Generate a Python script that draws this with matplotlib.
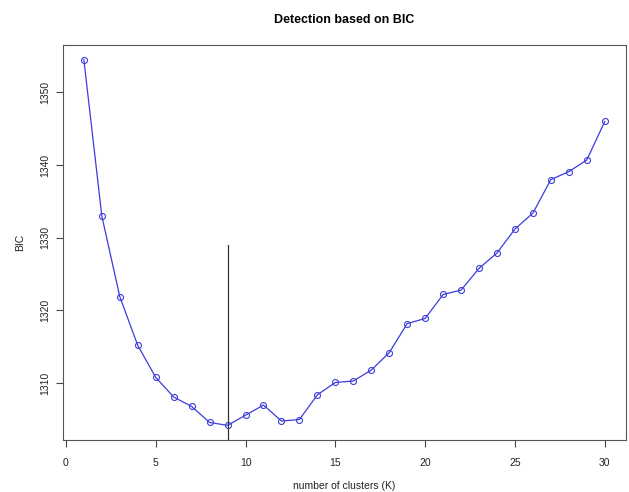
import matplotlib
matplotlib.use("Agg")
import matplotlib.pyplot as plt
import numpy as np

# BIC values, K = 1..30
k = list(range(1, 31))
bic = [1354.5, 1333.0, 1321.9, 1315.2, 1310.8, 1308.1, 1306.8, 1304.6, 1304.2, 1305.6,
       1307.0, 1304.8, 1305.0, 1308.4, 1310.1, 1310.3, 1311.8, 1314.2, 1318.2, 1318.9,
       1322.2, 1322.8, 1325.8, 1327.9, 1331.2, 1333.4, 1338.0, 1339.1, 1340.7, 1346.0]
best_k = 9
marker_top = 1329.0

xticks = [0, 5, 10, 15, 20, 25, 30]
yticks = [1310, 1320, 1330, 1340, 1350]

plt.rcParams['font.family'] = ['Liberation Sans', 'DejaVu Sans']

fig = plt.figure(figsize=(6.29, 4.92), dpi=100)
ax = fig.add_axes([0.1002, 0.1057, 0.8944, 0.8028])

# R style axis ranges (4% padding)
xr = max(k) - min(k)
yr = max(bic) - min(bic)
ax.set_xlim(min(k) - 0.04 * xr, max(k) + 0.04 * xr)
ax.set_ylim(min(bic) - 0.04 * yr, max(bic) + 0.04 * yr)

ax.plot(k, bic, color='#3c3cdc', lw=0.9, marker='o', ms=4.3, mfc='none',
        mec='#3c3cdc', mew=0.8)
ax.plot([best_k, best_k], [ax.get_ylim()[0], marker_top], color='#333333', lw=0.9)

ax.set_xticks(xticks)
ax.set_yticks(yticks)
ax.set_yticklabels([str(v) for v in yticks], rotation=90, va='center')
ax.tick_params(direction='out', length=5, width=0.8, colors='#444444',
               labelcolor='#222222', labelsize=7.5)
ax.tick_params(axis='x', pad=8)
ax.tick_params(axis='y', pad=4.5)
for s in ax.spines.values():
    s.set_color('#555555')
    s.set_linewidth(0.8)

ax.set_xlabel('number of clusters (K)', fontsize=7.5, color='#222222', labelpad=9.5)
ax.set_ylabel('BIC', fontsize=7.5, color='#222222', labelpad=10.5)
ax.set_title('Detection based on BIC', fontsize=9, fontweight='bold', pad=15.5)

fig.savefig('out.png', dpi=100)
